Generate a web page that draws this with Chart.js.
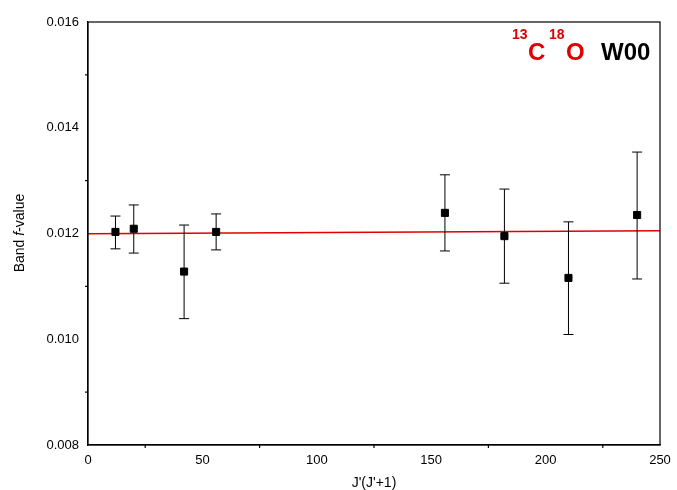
<!DOCTYPE html>
<html>
<head>
<script src="https://cdn.jsdelivr.net/npm/chart.js@4"></script>
<style>body{margin:0;background:#fff}#wrap{width:677px;height:490px}</style>
</head>
<body>
<div id="wrap"><canvas id="c"></canvas></div>
<script>
'use strict';

// Data
let jValues = [12, 20, 42, 56, 156, 182, 210, 240];
let fValues = [0.01203, 0.01209, 0.01128, 0.01203, 0.01239, 0.01195, 0.01116, 0.01235];
let errUp = [0.01233, 0.01254, 0.01216, 0.01237, 0.01311, 0.01284, 0.01222, 0.01354];
let errDown = [0.01171, 0.01163, 0.01039, 0.01169, 0.01167, 0.01106, 0.01009, 0.01114];
let fitX = [0, 250];
let fitY = [0.011995, 0.01205];

let points = jValues.map((x, i) => ({x: x, y: fValues[i]}));
let fitLine = fitX.map((x, i) => ({x: x, y: fitY[i]}));

let extras = {
  id: 'extras',
  afterDatasetsDraw(chart){
    let ctx = chart.ctx;
    let xs = chart.scales.x, ys = chart.scales.y;
    let a = chart.chartArea;
    ctx.save();
    // error bars
    ctx.strokeStyle = '#000';
    ctx.lineWidth = 1;
    for (let i = 0; i < jValues.length; i++){
      let px = xs.getPixelForValue(jValues[i]);
      let t = ys.getPixelForValue(errUp[i]);
      let b = ys.getPixelForValue(errDown[i]);
      ctx.beginPath();
      ctx.moveTo(px, t); ctx.lineTo(px, b);
      ctx.moveTo(px - 5, t); ctx.lineTo(px + 5, t);
      ctx.moveTo(px - 5, b); ctx.lineTo(px + 5, b);
      ctx.stroke();
    }
    // frame
    ctx.lineWidth = 1.2;
    ctx.strokeRect(a.left, a.top, a.right - a.left, a.bottom - a.top);
    // minor ticks
    for (let v = 0.009; v < 0.016; v += 0.002){
      let py = ys.getPixelForValue(v);
      ctx.beginPath(); ctx.moveTo(a.left, py); ctx.lineTo(a.left - 3, py); ctx.stroke();
    }
    for (let v = 25; v < 250; v += 50){
      let px = xs.getPixelForValue(v);
      ctx.beginPath(); ctx.moveTo(px, a.bottom); ctx.lineTo(px, a.bottom + 3); ctx.stroke();
    }
    // label
    ctx.fillStyle = '#e00000';
    ctx.font = 'bold 24px Arial, "Liberation Sans"';
    ctx.textBaseline = 'alphabetic';
    ctx.fillText('C', 528, 60);
    ctx.fillText('O', 566, 60);
    ctx.font = 'bold 14px Arial, "Liberation Sans"';
    ctx.fillText('13', 512, 39);
    ctx.fillText('18', 549, 39);
    ctx.fillStyle = '#000';
    ctx.font = 'bold 24px Arial, "Liberation Sans"';
    ctx.fillText('W00', 601, 60);
    // axis titles
    ctx.font = '14px Arial, "Liberation Sans"';
    ctx.textAlign = 'center';
    ctx.fillText("J'(J'+1)", 374, 487);
    ctx.translate(24, 233);
    ctx.rotate(-Math.PI / 2);
    let parts = [['Band ', '14px Arial, "Liberation Sans"'], ['f', 'italic 14px Arial, "Liberation Sans"'], ['-value', '14px Arial, "Liberation Sans"']];
    let total = 0;
    parts.forEach(p => { ctx.font = p[1]; total += ctx.measureText(p[0]).width; });
    let x0 = -total / 2;
    ctx.textAlign = 'left';
    parts.forEach(p => { ctx.font = p[1]; ctx.fillText(p[0], x0, 0); x0 += ctx.measureText(p[0]).width; });
    ctx.restore();
  }
};

new Chart(document.getElementById('c'), {
  type: 'scatter',
  data: {
    datasets: [{
      data: fitLine,
      showLine: true,
      borderColor: '#e00000',
      borderWidth: 1.5,
      pointRadius: 0,
      order: 2
    },
    {
      data: points,
      pointStyle: 'rect',
      pointRadius: 5,
      backgroundColor: '#000',
      borderColor: '#000',
      order: 1
    }]
  },
  options: {
    responsive: true,
    maintainAspectRatio: false,
    animation: false,
    layout: {padding: {top: 22, right: 17, left: 0, bottom: 0}},
    plugins: {legend: {display: false}, tooltip: {enabled: false}},
    scales: {
      x: {
        min: 0, max: 250,
        afterFit(s){ s.height = 45; },
        ticks: {stepSize: 50, color: '#000', font: {size: 13, family: 'Arial, "Liberation Sans"'}, padding: 2},
        grid: {display: false, drawTicks: true, tickLength: 6, tickColor: '#000'},
        border: {color: '#000', width: 1.2}
      },
      y: {
        min: 0.008, max: 0.016,
        afterFit(s){ s.width = 88; },
        ticks: {stepSize: 0.002, color: '#000', font: {size: 13, family: 'Arial, "Liberation Sans"'},
          callback: v => v.toFixed(3)},
        grid: {display: false, drawTicks: true, tickLength: 6, tickColor: '#000'},
        border: {color: '#000', width: 1.2}
      }
    }
  },
  plugins: [extras]
});
</script>
</body>
</html>
